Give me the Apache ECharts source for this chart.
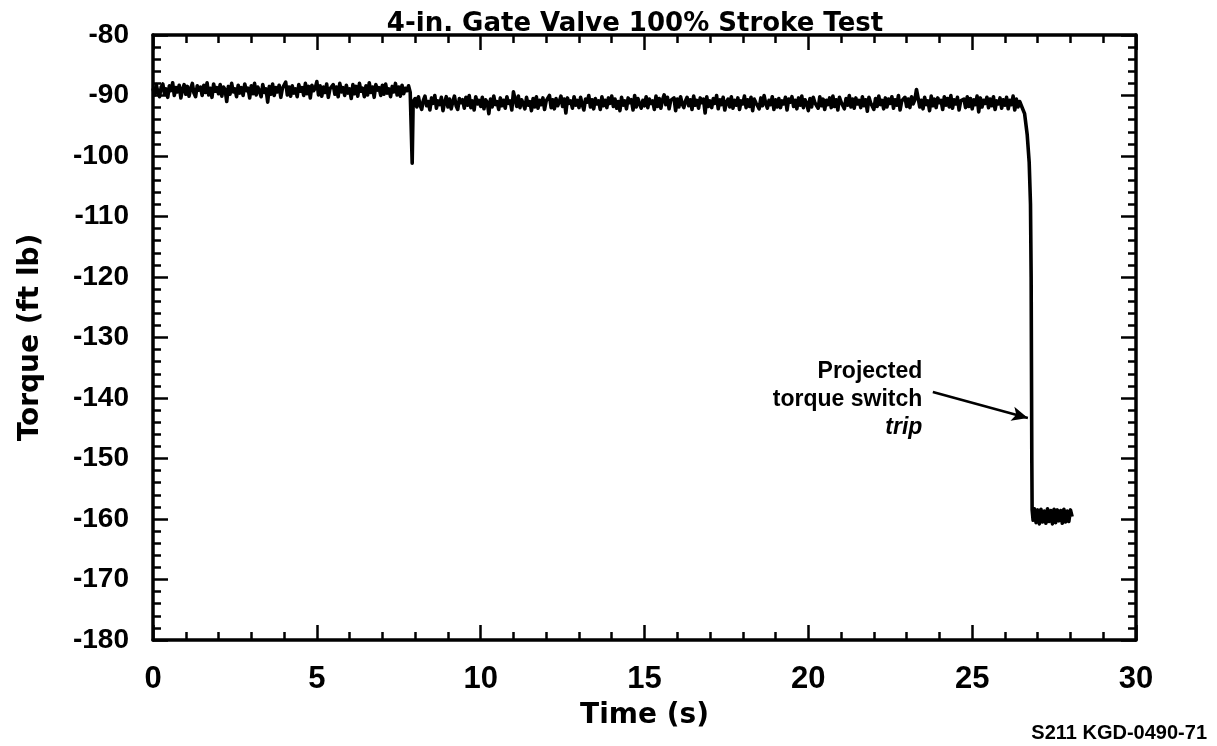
<!DOCTYPE html>
<html>
<head>
<meta charset="utf-8">
<script src="https://cdn.jsdelivr.net/npm/echarts@6/dist/echarts.min.js"></script>
<style>
  html, body { margin: 0; padding: 0; background: #fff; }
  #chart { width: 1217px; height: 746px; }
</style>
</head>
<body>
<div id="chart"></div>
<script>
// Torque trace of a 4-in. gate valve during a full stroke.
const sampleStep = 0.05;         // s, recorder sampling interval
const plateauAStart = 0.0;       // running torque before unseating
const plateauA = [
  -88.8,-89.9,-88.2,-89.5,-90.2,-88.6,-88.1,-89.7,-88.9,-90.3,
  -88.4,-89.2,-87.9,-90.0,-88.7,-89.4,-88.3,-90.4,-89.0,-88.2,
  -89.8,-88.5,-90.1,-88.9,-88.0,-89.6,-90.2,-88.4,-89.1,-88.6,
  -90.0,-88.3,-89.5,-87.9,-89.9,-88.8,-90.3,-88.1,-89.3,-88.7,
  -89.7,-88.2,-90.1,-88.6,-89.0,-91.0,-88.5,-89.8,-88.0,-89.4,
  -88.9,-90.2,-88.3,-89.6,-88.7,-90.0,-88.1,-89.2,-88.8,-90.4,
  -88.4,-89.7,-88.0,-89.9,-88.6,-89.3,-90.2,-88.2,-89.5,-88.9,
  -91.1,-88.5,-89.8,-88.1,-90.0,-88.7,-89.4,-88.3,-90.3,-88.8,
  -89.1,-87.8,-89.9,-88.6,-90.1,-88.4,-89.6,-88.9,-90.2,-88.2,
  -89.3,-88.7,-90.0,-88.0,-89.7,-88.5,-90.4,-88.3,-89.2,-88.8,
  -87.7,-89.9,-88.4,-90.1,-88.6,-89.5,-88.1,-90.3,-88.9,-89.0,
  -88.2,-89.8,-88.6,-90.2,-88.0,-89.4,-88.7,-90.0,-88.3,-89.6,
  -88.9,-90.5,-88.2,-89.7,-88.5,-90.1,-88.0,-89.3,-88.8,-90.2,
  -88.4,-89.9,-87.9,-89.5,-88.6,-90.3,-88.2,-89.1,-88.7,-90.0,
  -88.3,-89.8,-88.1,-89.6,-88.9,-90.2,-88.5,-89.4,-88.0,-89.9,
  -88.6,-90.1,-88.3,-89.7,-88.8,-89.2,-88.4,-89.5
];
// brief dip when the valve unseats
const unseatSpike = [[7.9, -89.3], [7.91, -101.2], [7.94, -91.0]];
const plateauBStart = 8.0;       // running torque during travel
const plateauB = [
  -90.5,-91.9,-90.2,-91.6,-92.3,-90.8,-90.1,-91.7,-91.0,-92.4,
  -90.4,-91.3,-90.0,-92.1,-90.9,-91.5,-90.3,-92.5,-91.1,-90.2,
  -91.9,-90.6,-92.2,-91.0,-90.1,-91.7,-92.3,-90.5,-91.2,-90.7,
  -92.1,-90.3,-91.6,-90.0,-92.0,-90.9,-92.4,-90.2,-91.4,-90.8,
  -91.8,-90.3,-92.2,-90.7,-91.1,-93.0,-90.6,-91.9,-90.1,-91.5,
  -91.0,-92.3,-90.4,-91.7,-90.8,-92.1,-90.2,-91.3,-90.9,-92.4,
  -89.4,-90.6,-91.8,-90.1,-92.0,-90.7,-91.4,-92.2,-90.3,-91.6,
  -91.0,-92.5,-90.5,-91.9,-90.2,-92.1,-90.8,-91.5,-90.4,-92.3,
  -90.9,-91.2,-90.0,-92.0,-90.7,-92.2,-90.5,-91.7,-91.0,-90.1,
  -91.8,-90.6,-92.9,-90.4,-91.3,-90.9,-92.1,-90.2,-91.6,-90.8,
  -92.0,-90.3,-91.5,-92.4,-90.6,-91.1,-90.0,-91.9,-90.7,-92.2,
  -90.5,-91.4,-90.9,-92.3,-90.2,-91.7,-90.8,-92.0,-90.4,-91.3,
  -90.1,-91.8,-90.6,-92.1,-91.0,-92.5,-90.3,-91.6,-90.9,-92.2,
  -90.4,-91.2,-90.7,-92.4,-90.0,-91.9,-90.5,-91.4,-92.1,-90.8,
  -91.7,-90.2,-92.0,-90.6,-91.3,-90.9,-92.3,-90.1,-91.8,-90.5,
  -92.1,-90.7,-89.9,-91.5,-90.3,-92.2,-90.8,-91.1,-90.4,-92.5,
  -90.6,-91.9,-90.2,-91.4,-92.0,-90.9,-90.3,-91.7,-90.7,-92.3,
  -90.1,-91.6,-90.8,-92.1,-90.4,-91.2,-90.6,-92.9,-90.2,-91.8,
  -90.9,-92.0,-90.5,-91.3,-90.0,-92.2,-90.7,-91.5,-90.3,-92.4,
  -91.1,-90.6,-91.9,-90.2,-92.1,-90.8,-91.6,-90.4,-92.3,-90.9,
  -91.4,-90.1,-92.0,-90.7,-91.8,-90.3,-92.5,-90.6,-91.2,-90.9,
  -92.2,-90.4,-91.7,-90.0,-91.3,-92.1,-90.8,-91.5,-90.2,-92.3,
  -90.7,-91.9,-90.5,-92.0,-90.9,-91.4,-90.3,-92.4,-90.6,-91.1,
  -90.2,-91.8,-90.8,-92.2,-90.4,-91.6,-90.1,-92.0,-90.7,-91.3,
  -92.5,-90.5,-91.9,-90.3,-91.2,-90.9,-92.1,-90.2,-91.7,-90.6,
  -92.3,-90.8,-91.5,-90.4,-92.0,-90.1,-91.8,-90.7,-92.4,-90.3,
  -91.1,-90.9,-92.2,-90.5,-91.6,-90.0,-91.9,-90.6,-92.1,-90.4,
  -91.4,-90.8,-92.0,-90.2,-91.7,-90.7,-92.6,-90.3,-91.2,-90.9,
  -92.3,-90.5,-91.8,-90.1,-91.5,-90.8,-92.2,-90.4,-91.9,-90.6,
  -91.3,-90.2,-92.1,-90.7,-91.6,-90.0,-92.4,-90.9,-91.0,-90.3,
  -91.8,-90.6,-92.0,-90.2,-91.4,-90.7,-89.0,-90.4,-91.9,-90.8,
  -92.2,-90.3,-91.5,-90.9,-92.5,-90.1,-91.7,-90.6,-92.0,-90.4,
  -91.2,-90.8,-92.3,-90.2,-91.6,-90.5,-91.9,-90.0,-92.1,-90.7,
  -91.4,-90.3,-92.4,-90.9,-91.1,-90.6,-92.0,-90.2,-91.8,-90.5,
  -92.2,-90.7,-91.5,-90.1,-92.7,-90.4,-91.9,-90.8,-91.3,-90.3,
  -92.0,-90.6,-91.7,-90.2,-92.3,-90.9,-91.4,-90.4,-92.1,-90.7,
  -91.6,-90.3,-92.2,-90.8,-91.5,-90.1,-92.4,-90.6,-91.9,-91.0
];
// seating: torque ramps down to the switch trip level
const seatingRamp = [
  [26.5, -91.0], [26.6, -93.0], [26.68, -96.5], [26.74, -101.0], [26.78, -108.0],
  [26.8, -120.0], [26.81, -135.0], [26.82, -150.0], [26.83, -158.5], [26.86, -160.2]
];
const tripStart = 26.9;          // held at the trip level
const tripLevel = [
  -158.3,-160.6,-158.5,-160.8,-158.4,-160.5,-158.7,-160.7,-158.3,-160.4,
  -158.6,-160.8,-158.4,-160.6,-158.5,-160.3,-158.6,-160.7,-158.4,-160.5,
  -158.7,-160.4,-158.5,-159.6
];
const xTicks = [0, 5, 10, 15, 20, 25, 30];
const yTicks = [-80, -90, -100, -110, -120, -130, -140, -150, -160, -170, -180];
const annotationText = ['Projected', 'torque switch', 'trip'];
const annotationAt = [23.48, -140.3];
const arrowFrom = [23.8, -139.0];
const arrowTo = [26.7, -143.3];

function withTimes(start, step, vals) {
  return vals.map((v, i) => [+(start + i * step).toFixed(3), v]);
}
const trace = [].concat(
  withTimes(plateauAStart, sampleStep, plateauA),
  unseatSpike,
  withTimes(plateauBStart, sampleStep, plateauB),
  seatingRamp,
  withTimes(tripStart, sampleStep, tripLevel)
);

const FONT = '"Liberation Sans", Arial, Helvetica, sans-serif';
const WIDE = '"DejaVu Sans", Verdana, sans-serif';
const INK = '#000';

function axisBase(extra) {
  return Object.assign({
    type: 'value',
    axisLine: { show: true, onZero: false, lineStyle: { color: INK, width: 3.5 } },
    axisTick: { show: true, inside: true, length: 15, lineStyle: { color: INK, width: 2.5 } },
    minorTick: { show: true, splitNumber: 5, length: 8, lineStyle: { color: INK, width: 2.5 } },
    splitLine: { show: false },
    minorSplitLine: { show: false }
  }, extra);
}

const chart = echarts.init(document.getElementById('chart'), null, { renderer: 'canvas' });
chart.setOption({
  backgroundColor: '#fff',
  animation: false,
  textStyle: { fontFamily: FONT },
  title: {
    text: '4-in. Gate Valve 100% Stroke Test',
    left: 630, top: 6, textAlign: 'center',
    textStyle: { fontFamily: WIDE, fontWeight: 'bold', fontSize: 26, color: INK }
  },
  grid: { left: 153, right: 81, top: 35, bottom: 106, containLabel: false },
  xAxis: [
    axisBase({
      min: 0, max: 30, interval: 5, position: 'bottom',
      name: 'Time (s)', nameLocation: 'middle', nameGap: 62, nameMoveOverlap: false,
      nameTextStyle: { fontFamily: WIDE, fontWeight: 'bold', fontSize: 28, color: INK },
      axisLabel: {
        margin: 24, fontFamily: FONT, fontWeight: 'bold', fontSize: 31, color: INK,
        customValues: xTicks
      }
    }),
    axisBase({
      min: 0, max: 30, interval: 5, position: 'top',
      axisLabel: { show: false }
    })
  ],
  yAxis: [
    axisBase({
      min: -180, max: -80, interval: 10, position: 'left',
      name: 'Torque (ft lb)', nameLocation: 'middle', nameGap: 108, nameRotate: 90, nameMoveOverlap: false,
      nameTextStyle: { fontFamily: WIDE, fontWeight: 'bold', fontSize: 28, color: INK },
      axisLabel: {
        margin: 24, fontFamily: FONT, fontWeight: 'bold', fontSize: 28, color: INK,
        customValues: yTicks
      }
    }),
    axisBase({
      min: -180, max: -80, interval: 10, position: 'right',
      axisLabel: { show: false }
    })
  ],
  series: [
    {
      type: 'line',
      data: trace,
      showSymbol: false,
      symbol: 'none',
      sampling: null,
      lineStyle: { color: INK, width: 3.6, join: 'round' },
      markLine: {
        silent: true,
        symbol: ['none', 'arrow'],
        symbolSize: [11, 16],
        lineStyle: { color: INK, width: 2.5, type: 'solid' },
        label: { show: false },
        data: [[{ coord: arrowFrom }, { coord: arrowTo }]]
      },
      markPoint: {
        silent: true,
        symbol: 'circle', symbolSize: 0,
        data: [{
          coord: annotationAt,
          label: {
            show: true, position: 'inside', align: 'right', verticalAlign: 'middle',
            formatter: annotationText[0] + '\n' + annotationText[1] + '\n{it|' + annotationText[2] + '}',
            fontFamily: FONT, fontWeight: 'bold', fontSize: 23, lineHeight: 28, color: INK,
            rich: { it: { fontFamily: FONT, fontWeight: 'bold', fontStyle: 'italic', fontSize: 23, lineHeight: 28, color: INK } }
          }
        }]
      }
    }
  ],
  graphic: [{
    type: 'text',
    right: 10, bottom: 3,
    style: { text: 'S211 KGD-0490-71', font: 'bold 20px ' + FONT, fill: INK }
  }]
});
</script>
</body>
</html>
